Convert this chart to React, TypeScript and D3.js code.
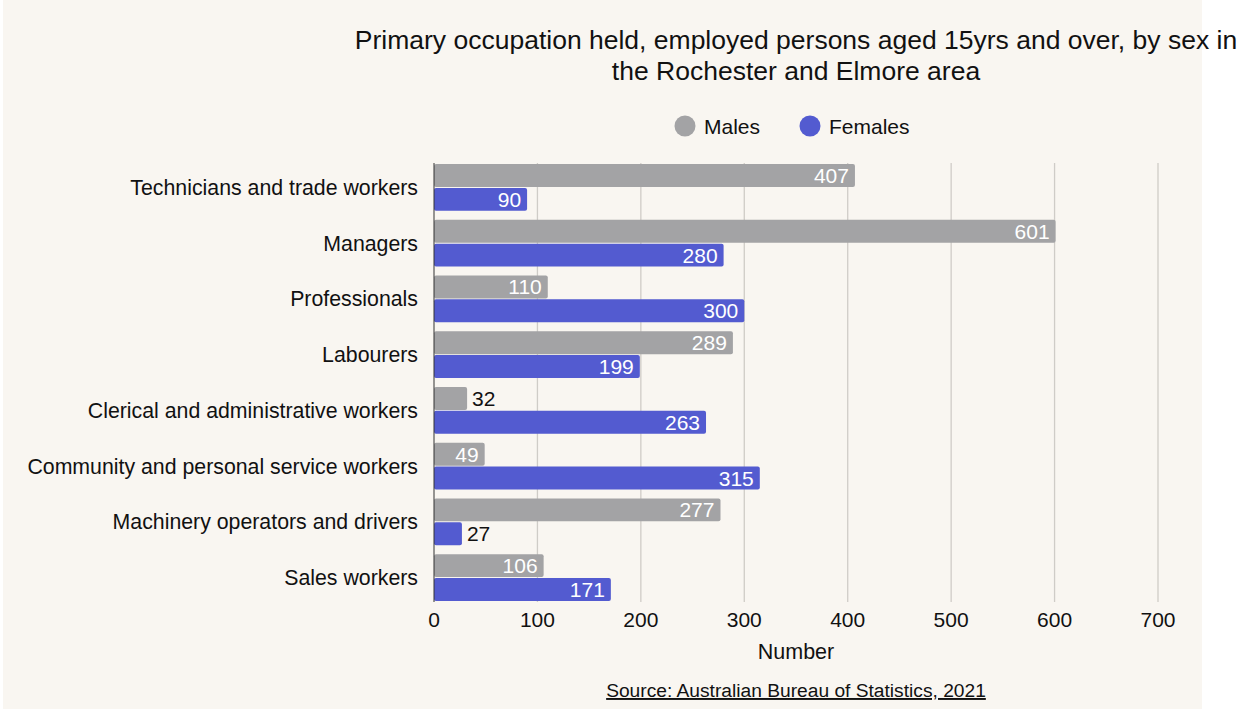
import React from "react";
import * as d3 from "d3";

const categories = [
  "Technicians and trade workers",
  "Managers",
  "Professionals",
  "Labourers",
  "Clerical and administrative workers",
  "Community and personal service workers",
  "Machinery operators and drivers",
  "Sales workers",
];
const males = [407, 601, 110, 289, 32, 49, 277, 106];
const females = [90, 280, 300, 199, 263, 315, 27, 171];
const seriesNames = ["Males", "Females"];
const seriesColors = ["#a3a3a5", "#535bd0"];
const xTicks = [0, 100, 200, 300, 400, 500, 600, 700];

const W = 1248;
const H = 711;
const FONT = "'Liberation Sans', Arial, Helvetica, sans-serif";

export default function App() {
  const x = d3.scaleLinear().domain([0, 700]).range([434, 1158]);
  const y = d3
    .scaleBand<string>()
    .domain(categories)
    .range([164, 601])
    .paddingInner(0.16)
    .paddingOuter(0);
  const sub = d3
    .scaleBand<string>()
    .domain(seriesNames)
    .range([0, y.bandwidth()])
    .paddingInner(0.04);
  const cx = (x.range()[0] + x.range()[1]) / 2;
  const series = [males, females];

  return (
    <svg
      width={W}
      height={H}
      style={{ position: "absolute", left: 0, top: 0, display: "block" }}
      fontFamily={FONT}
    >
      <rect x={3} y={0} width={1199} height={709} fill="#f9f6f1" />
      <text x={cx} y={49} textAnchor="middle" fontSize={26.5} fill="#111">
        Primary occupation held, employed persons aged 15yrs and over, by sex in
      </text>
      <text x={cx} y={80} textAnchor="middle" fontSize={26.5} fill="#111">
        the Rochester and Elmore area
      </text>

      {/* legend */}
      {seriesNames.map((s, i) => {
        const lx = i === 0 ? 685 : 810;
        return (
          <g key={s}>
            <circle cx={lx} cy={126} r={10.5} fill={seriesColors[i]} />
            <text x={lx + 19} y={133.5} fontSize={21} fill="#111">
              {s}
            </text>
          </g>
        );
      })}

      {/* grid */}
      {xTicks.map((t) =>
        t === 0 ? null : (
          <line
            key={t}
            x1={x(t)}
            x2={x(t)}
            y1={163}
            y2={602}
            stroke="#cfccc7"
            strokeWidth={1.3}
          />
        )
      )}
      {xTicks.map((t) => (
        <text
          key={"t" + t}
          x={x(t)}
          y={627}
          textAnchor="middle"
          fontSize={21}
          fill="#111"
        >
          {t}
        </text>
      ))}
      <text x={cx} y={659} textAnchor="middle" fontSize={21.5} fill="#111">
        Number
      </text>
      <text
        x={cx}
        y={697}
        textAnchor="middle"
        fontSize={19.2}
        fill="#111"
        textDecoration="underline"
      >
        Source: Australian Bureau of Statistics, 2021
      </text>

      {/* bars */}
      {categories.map((c, ci) => (
        <g key={c}>
          <text
            x={418}
            y={(y(c) as number) + y.bandwidth() / 2 + 7.5}
            textAnchor="end"
            fontSize={21.3}
            fill="#111"
          >
            {c}
          </text>
          {series.map((vals, si) => {
            const v = vals[ci];
            const by = (y(c) as number) + (sub(seriesNames[si]) as number);
            const bw = x(v) - x(0);
            const inside = bw > 50;
            return (
              <g key={si}>
                <rect
                  x={x(0)}
                  y={by}
                  width={bw}
                  height={sub.bandwidth()}
                  rx={2}
                  fill={seriesColors[si]}
                />
                <text
                  x={inside ? x(v) - 6 : x(v) + 5}
                  y={by + sub.bandwidth() / 2 + 7.5}
                  textAnchor={inside ? "end" : "start"}
                  fontSize={21}
                  fill={inside ? "#fff" : "#111"}
                >
                  {v}
                </text>
              </g>
            );
          })}
        </g>
      ))}
      <line x1={434} x2={434} y1={163} y2={602} stroke="#333" strokeWidth={1} />
    </svg>
  );
}
